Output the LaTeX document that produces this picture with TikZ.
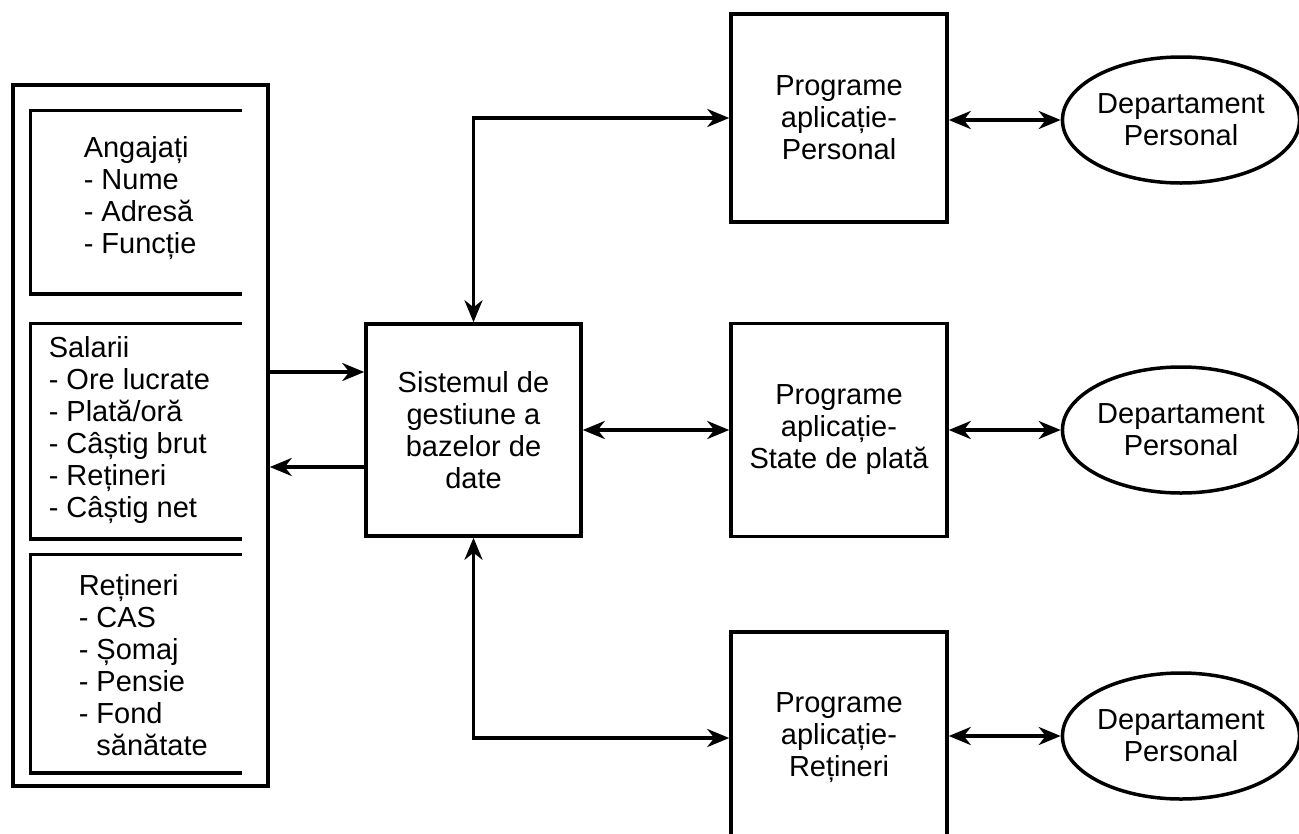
\documentclass[tikz,border=0pt]{standalone}
\usepackage{fontspec}
\setmainfont{Liberation Sans}
\usetikzlibrary{arrows.meta,shapes.geometric}

\begin{document}
\begin{tikzpicture}[
  x=1pt, y=-1pt,
  >={Stealth[length=22pt,width=18pt,inset=7pt]},
  line width=3.5pt,
  font=\fontsize{29}{32}\selectfont,
  box/.style={draw, rectangle, inner sep=0pt, align=center},
  shelf/.style={rectangle, inner sep=0pt, minimum width=208},
  list/.style={anchor=west, inner sep=0pt, align=left},
  dept/.style={draw, ellipse, inner sep=0pt, minimum width=234, minimum height=126, align=center}
  ]
\clip (0,0) rectangle (1299,833);
%\draw [ultra thin, lightgray] (0,0) grid[step=50] (1299,833);
% files of the database
\node [box, minimum width=255, minimum height=701] (files) at (140.5,435.5) {};
\node [shelf, minimum height=180] (angajati) at (136,202) {};
\node [shelf, minimum height=212] (salarii) at (136,431) {};
\node [shelf, minimum height=215] (retineri) at (136,663.5) {};
\draw (angajati.north east) -- (angajati.north west) -- (angajati.south west) -- (angajati.south east);
\draw (salarii.north east) -- (salarii.north west) -- (salarii.south west) -- (salarii.south east);
\draw (retineri.north east) -- (retineri.north west) -- (retineri.south west) -- (retineri.south east);
\node [list] (angajatitxt) at (82,198) {Angajați\\- Nume\\- Adresă\\- Funcție};
\node [list] (salariitxt) at (47,430) {Salarii\\- Ore lucrate\\- Plată/oră\\- Câștig brut\\- Rețineri\\- Câștig net};
\node [list] (retineritxt) at (77,665) {Rețineri\\- CAS\\- Șomaj\\- Pensie\\- Fond\\\phantom{- }sănătate};
% database management system and programs
\node [box, minimum width=215, minimum height=212] (sgbd) at (473.5,430) {Sistemul de\\gestiune a\\bazelor de\\date};
\node [box, minimum width=216, minimum height=208] (persprog) at (839,118) {Programe\\aplicație-\\Personal};
\node [box, minimum width=216, minimum height=213] (stateprog) at (839,430) {Programe\\aplicație-\\State de plată};
\node [box, minimum width=216, minimum height=212] (retprog) at (839,738) {Programe\\aplicație-\\Rețineri};
% departments
\node [dept] (deptA) at (1181,120) {Departament\\Personal};
\node [dept] (deptB) at (1181,430) {Departament\\Personal};
\node [dept] (deptC) at (1181,736) {Departament\\Personal};
% connectors
\coordinate (inrow) at (0,372);
\coordinate (outrow) at (0,467);
\draw [->] (files.east |- inrow) -- (sgbd.west |- inrow);
\draw [->] (sgbd.west |- outrow) -- (files.east |- outrow);
\draw [<->] (sgbd.north) |- (persprog.west);
\draw [<->] (sgbd.east) -- (stateprog.west);
\draw [<->] (sgbd.south) |- (retprog.west);
\draw [<->] (persprog.east |- deptA.west) -- (deptA.west);
\draw [<->] (stateprog.east |- deptB.west) -- (deptB.west);
\draw [<->] (retprog.east |- deptC.west) -- (deptC.west);
\end{tikzpicture}
\end{document}
